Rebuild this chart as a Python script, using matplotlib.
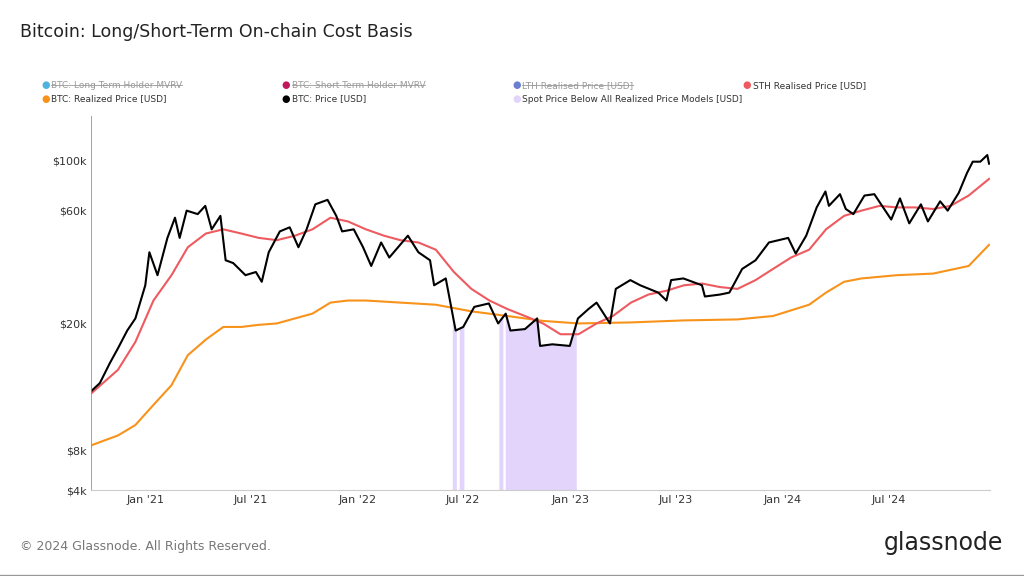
import matplotlib
matplotlib.use("Agg")
import matplotlib.pyplot as plt
import numpy as np
import pandas as pd
from matplotlib.lines import Line2D

price_dates = ["2020-10-01","2020-10-15","2020-11-01","2020-11-15","2020-12-01","2020-12-15","2021-01-01","2021-01-08","2021-01-22","2021-02-08","2021-02-21","2021-03-01","2021-03-13","2021-04-01","2021-04-14","2021-04-25","2021-05-10","2021-05-19","2021-06-01","2021-06-22","2021-07-10","2021-07-20","2021-08-01","2021-08-20","2021-09-06","2021-09-21","2021-10-05","2021-10-20","2021-11-10","2021-11-25","2021-12-05","2021-12-25","2022-01-10","2022-01-24","2022-02-10","2022-02-24","2022-03-28","2022-04-15","2022-05-05","2022-05-12","2022-06-01","2022-06-18","2022-07-01","2022-07-20","2022-08-14","2022-08-30","2022-09-12","2022-09-20","2022-10-15","2022-11-05","2022-11-10","2022-12-01","2022-12-31","2023-01-14","2023-02-01","2023-02-15","2023-03-10","2023-03-20","2023-04-14","2023-05-01","2023-06-01","2023-06-15","2023-06-23","2023-07-14","2023-08-15","2023-08-20","2023-09-15","2023-10-01","2023-10-23","2023-11-15","2023-12-08","2024-01-10","2024-01-23","2024-02-10","2024-02-28","2024-03-14","2024-03-20","2024-04-08","2024-04-18","2024-05-01","2024-05-20","2024-06-06","2024-07-05","2024-07-20","2024-08-05","2024-08-25","2024-09-06","2024-09-27","2024-10-10","2024-10-29","2024-11-12","2024-11-22","2024-12-05","2024-12-17","2024-12-20"]
price = [12.3,13.0,15.0,16.7,19,21,29,40,32,46,56,46,60,58,63,50,57,37,36,32,33,30,40,49,51,42,50,64,67,57,49,50,42,35,44,38,47,40,37,29,31,19,19.5,23.5,24.3,20,22,19,19.2,21,17,17.2,17,21,23,24.5,20,28,30.5,29,27,25,30.5,31,29,26,26.5,27,34,37,44,46,39.5,47,62,73,63,71,61,58,70,71,55,68,53,64,54,66,60,72,88,99,99,106,97]

sth_dates = ["2020-10-01","2020-11-15","2020-12-15","2021-01-15","2021-02-15","2021-03-15","2021-04-15","2021-05-15","2021-06-15","2021-07-15","2021-08-15","2021-09-15","2021-10-15","2021-11-15","2021-12-15","2022-01-15","2022-02-15","2022-03-15","2022-04-15","2022-05-15","2022-06-15","2022-07-15","2022-08-15","2022-09-15","2022-10-15","2022-11-15","2022-12-15","2023-01-15","2023-02-15","2023-03-15","2023-04-15","2023-05-15","2023-06-15","2023-07-15","2023-08-15","2023-09-15","2023-10-15","2023-11-15","2023-12-15","2024-01-15","2024-02-15","2024-03-15","2024-04-15","2024-05-15","2024-06-15","2024-07-15","2024-08-15","2024-09-15","2024-10-15","2024-11-15","2024-12-20"]
sth = [12.1,14.3,17.5,25,32,42,48,50,48,46,45,47,50,56,54,50,47,45,44,41,33,28,25,23,21.5,20,18.5,18.5,20,21.5,24.5,26.5,27.5,29,29.5,28.5,28,30.5,34,38,41,50,57,60,63,62,62,61,63,70,83]

rp_dates = ["2020-10-01","2020-11-15","2020-12-15","2021-01-15","2021-02-15","2021-03-15","2021-04-15","2021-05-15","2021-06-15","2021-07-15","2021-08-15","2021-09-15","2021-10-15","2021-11-15","2021-12-15","2022-01-15","2022-03-15","2022-05-15","2022-07-15","2022-09-15","2022-11-15","2023-01-15","2023-04-15","2023-07-15","2023-10-15","2023-12-15","2024-02-15","2024-03-15","2024-04-15","2024-05-15","2024-07-15","2024-09-15","2024-11-15","2024-12-20"]
rp = [8.3,8.9,9.6,11.1,12.8,15.9,17.8,19.5,19.5,19.8,20,21,22,24.5,25,25,24.5,24,22.5,21.5,20.5,20,20.2,20.6,20.8,21.5,24,27,30,31,32,32.5,35,43]

below_spans = [("2022-06-13","2022-06-20"),("2022-06-25","2022-07-03"),("2022-09-01","2022-09-08"),("2022-09-12","2023-01-12")]

y_ticks = [4000, 8000, 20000, 60000, 100000]
y_labels = ["$4k", "$8k", "$20k", "$60k", "$100k"]
# scale anchors (log value -> screen position) to match the reference's non-uniform axis
_anc_v = np.log10([1000, 4000, 8000, 20000, 60000, 100000, 1e6])
_anc_p = np.array([-623, -490, -450, -323, -210, -160, 65], float)
def fwd(v):
    return np.interp(np.log10(np.clip(v, 1, None)), _anc_v, _anc_p)
def inv(p):
    return 10 ** np.interp(p, _anc_p, _anc_v)

fig = plt.figure(figsize=(10.24,5.76), dpi=100)
ax = fig.add_axes([0.089,0.149,0.878,0.65])
ax.set_yscale("function", functions=(fwd, inv))
pd_ = pd.to_datetime(price_dates)
pv = np.array(price)*1000
daily = pd.date_range(pd_[0], pd_[-1], freq="D")
dv = np.exp(np.interp(daily.asi8, pd_.asi8, np.log(pv)))
mask = np.zeros(len(daily), bool)
for a,b in below_spans:
    mask |= (daily>=pd.Timestamp(a))&(daily<=pd.Timestamp(b))
ax.fill_between(daily, 4000, dv, where=mask, color="#e2d4fb", lw=0)
ax.plot(pd.to_datetime(rp_dates), np.array(rp)*1000, color="#f7931a", lw=1.5)
ax.plot(pd.to_datetime(sth_dates), np.array(sth)*1000, color="#ee5a5f", lw=1.5)
ax.plot(pd_, pv, color="black", lw=1.5)
ax.set_ylim(4000, inv(-115))
ax.set_xlim(pd.Timestamp("2020-09-30"), pd.Timestamp("2024-12-22"))
ax.set_yticks(y_ticks)
ax.set_yticklabels(y_labels)
ax.yaxis.set_minor_locator(matplotlib.ticker.NullLocator())
ax.set_xticks(pd.to_datetime(["2021-01-01","2021-07-01","2022-01-01","2022-07-01","2023-01-01","2023-07-01","2024-01-01","2024-07-01"]))
ax.set_xticklabels(["Jan '21","Jul '21","Jan '22","Jul '22","Jan '23","Jul '23","Jan '24","Jul '24"])
ax.tick_params(labelsize=8, colors="#333", length=0)
for s in ["top","right","left"]:
    ax.spines[s].set_visible(False)
ax.spines["bottom"].set_color("#ccc")
ax.axvline(pd.Timestamp("2020-09-30"), color="#7b8fd6", lw=1.2)

fig.text(0.02,0.935,"Bitcoin: Long/Short-Term On-chain Cost Basis", fontsize=12.5, color="#222")
items = [("BTC: Long Term Holder MVRV","#4fb3e0",True,0.04,0.852),("BTC: Short Term Holder MVRV","#c2185b",True,0.275,0.852),
         ("LTH Realised Price [USD]","#6b7fd0",True,0.5,0.852),("STH Realised Price [USD]","#ee5a5f",False,0.725,0.852),
         ("BTC: Realized Price [USD]","#f7931a",False,0.04,0.828),("BTC: Price [USD]","black",False,0.275,0.828),
         ("Spot Price Below All Realized Price Models [USD]","#e2d4fb",False,0.5,0.828)]
r = fig.canvas.get_renderer()
for lab,c,strike,x,y in items:
    fig.text(x,y,"●",color=c,fontsize=7,va="center")
    t = fig.text(x+0.01,y,lab,fontsize=6.5,color="#999" if strike else "#333",va="center")
    if strike:
        bb = t.get_window_extent(r).transformed(fig.transFigure.inverted())
        fig.add_artist(Line2D([bb.x0,bb.x1],[y,y],color="#999",lw=0.6,transform=fig.transFigure))
fig.text(0.02,0.045,"© 2024 Glassnode. All Rights Reserved.", fontsize=9, color="#777")
fig.text(0.98,0.045,"glassnode", fontsize=17, color="#222", ha="right")
fig.add_artist(Line2D([0,1],[0.002,0.002],color="#999",lw=1,transform=fig.transFigure))
fig.savefig("out.png", dpi=100)
